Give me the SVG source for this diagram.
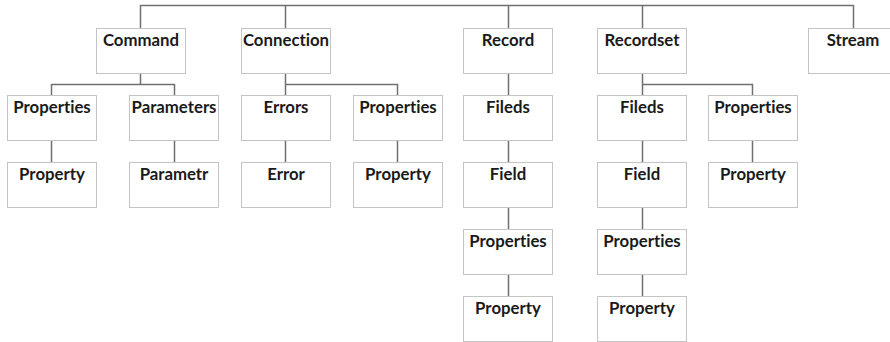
<svg xmlns="http://www.w3.org/2000/svg" width="890" height="342" viewBox="0 0 890 342">
<style>
.b{fill:#fff;stroke:#c4c4c4;stroke-width:1}
.t{font-family:Lato,"Liberation Sans",sans-serif;font-weight:bold;font-size:16.8px;fill:#1a1a1a;text-anchor:middle;font-variant-ligatures:none;font-feature-settings:"liga" 0,"clig" 0}
.c{fill:none;stroke:#707070;stroke-width:1.5}
</style>
<rect width="890" height="342" fill="#fff"/>
<g id="connectors">
<path class="c" d="M140.5 5.5H853.5M140.5 5V28M285.5 5V28M508.5 5V28M642.5 5V28M853.5 5V28"/>
<path class="c" d="M140.5 73V84.5M51.5 84.5H174.5M51.5 84V95M174.5 84V95"/>
<path class="c" d="M285.5 73V84.5H397.5V95M285.5 84V95"/>
<path class="c" d="M642.5 73V84.5H752.5V95M642.5 84V95"/>
<path class="c" d="M508.5 73V95M51.5 140V162M174.5 140V162M285.5 140V162M397.5 140V162M508.5 140V162M642.5 140V162M752.5 140V162M508.5 207V229M642.5 207V229M508.5 274V297M642.5 274V297"/>
</g>
<g id="command"><rect class="b" x="96.5" y="28.5" width="89" height="45"/><text class="t" x="141" y="45.5">Command</text></g>
<g id="connection"><rect class="b" x="241.5" y="28.5" width="89" height="45"/><text class="t" x="286" y="45.5">Connection</text></g>
<g id="record"><rect class="b" x="463.5" y="28.5" width="89" height="45"/><text class="t" x="508" y="45.5">Record</text></g>
<g id="recordset"><rect class="b" x="597.5" y="28.5" width="89" height="45"/><text class="t" x="642" y="45.5">Recordset</text></g>
<g id="stream"><rect class="b" x="808.5" y="28.5" width="89" height="45"/><text class="t" x="853" y="45.5">Stream</text></g>
<g id="cmd-properties"><rect class="b" x="7.5" y="95.5" width="89" height="45"/><text class="t" x="52" y="112.5">Properties</text></g>
<g id="cmd-parameters"><rect class="b" x="129.5" y="95.5" width="89" height="45"/><text class="t" x="174" y="112.5">Parameters</text></g>
<g id="conn-errors"><rect class="b" x="241.5" y="95.5" width="89" height="45"/><text class="t" x="286" y="112.5">Errors</text></g>
<g id="conn-properties"><rect class="b" x="353.5" y="95.5" width="89" height="45"/><text class="t" x="398" y="112.5">Properties</text></g>
<g id="rec-fileds"><rect class="b" x="463.5" y="95.5" width="89" height="45"/><text class="t" x="508" y="112.5">Fileds</text></g>
<g id="rs-fileds"><rect class="b" x="597.5" y="95.5" width="89" height="45"/><text class="t" x="642" y="112.5">Fileds</text></g>
<g id="rs-properties"><rect class="b" x="708.5" y="95.5" width="89" height="45"/><text class="t" x="753" y="112.5">Properties</text></g>
<g id="cmd-property"><rect class="b" x="7.5" y="162.5" width="89" height="45"/><text class="t" x="52" y="179.5">Property</text></g>
<g id="cmd-parametr"><rect class="b" x="129.5" y="162.5" width="89" height="45"/><text class="t" x="174" y="179.5">Parametr</text></g>
<g id="conn-error"><rect class="b" x="241.5" y="162.5" width="89" height="45"/><text class="t" x="286" y="179.5">Error</text></g>
<g id="conn-property"><rect class="b" x="353.5" y="162.5" width="89" height="45"/><text class="t" x="398" y="179.5">Property</text></g>
<g id="rec-field"><rect class="b" x="463.5" y="162.5" width="89" height="45"/><text class="t" x="508" y="179.5">Field</text></g>
<g id="rs-field"><rect class="b" x="597.5" y="162.5" width="89" height="45"/><text class="t" x="642" y="179.5">Field</text></g>
<g id="rs-property"><rect class="b" x="708.5" y="162.5" width="89" height="45"/><text class="t" x="753" y="179.5">Property</text></g>
<g id="rec-field-properties"><rect class="b" x="463.5" y="229.5" width="89" height="45"/><text class="t" x="508" y="246.5">Properties</text></g>
<g id="rs-field-properties"><rect class="b" x="597.5" y="229.5" width="89" height="45"/><text class="t" x="642" y="246.5">Properties</text></g>
<g id="rec-field-property"><rect class="b" x="463.5" y="296.5" width="89" height="45"/><text class="t" x="508" y="313.5">Property</text></g>
<g id="rs-field-property"><rect class="b" x="597.5" y="296.5" width="89" height="45"/><text class="t" x="642" y="313.5">Property</text></g>
</svg>
